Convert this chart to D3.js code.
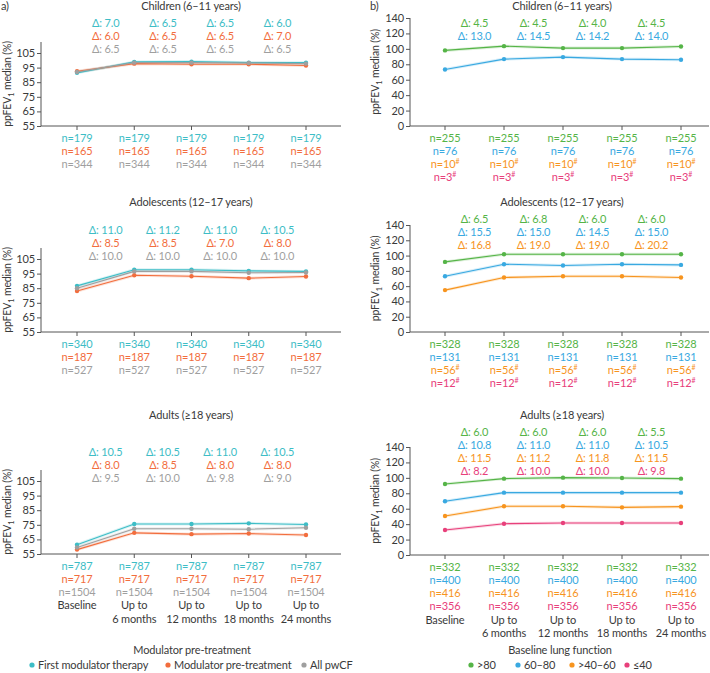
<!DOCTYPE html>
<html>
<head>
<meta charset="utf-8">
<script src="https://cdn.jsdelivr.net/npm/d3@7"></script>
<style>
  body { margin: 0; background: #fff; }
  svg { font-family: Lato, "Noto Sans", sans-serif; letter-spacing: -0.15px; }
</style>
</head>
<body>
<svg id="chart" width="710" height="673"></svg>
<script>
// time points shared by every panel
const timeLabels = [["Baseline"], ["Up to", "6 months"], ["Up to", "12 months"], ["Up to", "18 months"], ["Up to", "24 months"]];

// a) modulator pre-treatment groups
const groupsA = ["First modulator therapy", "Modulator pre-treatment", "All pwCF"];
const colorsA = ["#3dbdc6", "#f26d3d", "#9f9f9f"];

const aChildFirst = [91.4, 98.9, 99.1, 98.4, 98.4];
const aChildPre   = [92.5, 97.7, 97.3, 97.3, 96.4];
const aChildAll   = [92.0, 98.4, 98.4, 98.2, 97.7];
const aChildDelta = [[7.0, 6.5, 6.5, 6.0], [6.0, 6.5, 6.5, 7.0], [6.5, 6.5, 6.5, 6.5]];
const aChildN     = ["179", "165", "344"];

const aAdolFirst = [86.6, 97.6, 97.6, 96.9, 96.5];
const aAdolPre   = [83.1, 93.9, 93.2, 91.9, 93.0];
const aAdolAll   = [85.0, 96.5, 96.5, 95.6, 95.8];
const aAdolDelta = [[11.0, 11.2, 11.0, 10.5], [8.5, 8.5, 7.0, 8.0], [10.0, 10.0, 10.0, 10.0]];
const aAdolN     = ["340", "187", "527"];

const aAdultFirst = [61.4, 75.5, 75.5, 76.0, 75.2];
const aAdultPre   = [58.0, 69.5, 68.6, 69.0, 68.0];
const aAdultAll   = [59.5, 72.3, 72.3, 72.0, 73.0];
const aAdultDelta = [[10.5, 10.5, 11.0, 10.5], [8.0, 8.5, 8.0, 8.0], [9.5, 10.0, 9.8, 9.0]];
const aAdultN     = ["787", "717", "1504"];

// b) baseline lung function groups
const groupsB = [">80", "60\u201380", ">40\u201360", "\u226440"];
const colorsB = ["#55b447", "#39a9e1", "#f7941e", "#e8407b"];

const bChildHigh = [98.0, 103.5, 101.0, 101.0, 103.0];
const bChildMid  = [73.3, 86.7, 89.3, 86.7, 85.8];
const bChildDelta = [[4.5, 4.5, 4.0, 4.5], [13.0, 14.5, 14.2, 14.0]];
const bChildN     = ["255", "76", "10#", "3#"];

const bAdolHigh = [91.7, 101.7, 101.7, 101.7, 101.7];
const bAdolMid  = [73.0, 88.7, 87.0, 88.7, 87.8];
const bAdolLow  = [54.8, 71.3, 73.0, 73.0, 71.3];
const bAdolDelta = [[6.5, 6.8, 6.0, 6.0], [15.5, 15.0, 14.5, 15.0], [16.8, 19.0, 19.0, 20.2]];
const bAdolN     = ["328", "131", "56#", "12#"];

const bAdultHigh = [92.0, 99.0, 100.3, 99.9, 99.0];
const bAdultMid  = [69.6, 80.8, 80.8, 80.8, 80.8];
const bAdultLow  = [50.6, 63.1, 63.1, 61.8, 62.7];
const bAdultVLow = [32.4, 40.6, 41.5, 41.5, 41.5];
const bAdultDelta = [[6.0, 6.0, 6.0, 5.5], [10.8, 11.0, 11.0, 10.5], [11.5, 11.2, 11.8, 11.5], [8.2, 10.0, 10.0, 9.8]];
const bAdultN     = ["332", "400", "416", "356"];

const svg = d3.select("#chart");
const textCol = "#3a3a3a";
const fs = 11;

function drawPanel(p) {
  const g = svg.append("g");
  const x = d3.scalePoint().domain(d3.range(5)).range(p.xRange);
  const y = d3.scaleLinear().domain(p.domain).range(p.yRange);

  // title
  g.append("text").attr("x", p.titleX).attr("y", p.titleY)
    .attr("text-anchor", "middle").attr("font-size", fs).attr("fill", textCol)
    .text(p.title);

  // axes
  const yAxis = g.append("g").attr("transform", `translate(${p.axisX},0)`)
    .call(d3.axisLeft(y).tickValues(p.ticks).tickSize(4).tickPadding(2).tickSizeOuter(0));
  yAxis.select(".domain").remove();
  yAxis.append("line").attr("x1", 0).attr("x2", 0)
    .attr("y1", y(p.domain[0])).attr("y2", p.axisTop).attr("stroke", "#555");
  yAxis.selectAll("line").attr("stroke", "#555");
  yAxis.selectAll("text").attr("font-size", fs).attr("fill", textCol).attr("font-family", "Lato, sans-serif");

  const base = y(p.domain[0]);
  g.append("line").attr("x1", p.axisX).attr("x2", p.axisEnd)
    .attr("y1", base).attr("y2", base).attr("stroke", "#555");
  g.selectAll(".xt").data(d3.range(5)).join("line")
    .attr("x1", i => x(i)).attr("x2", i => x(i))
    .attr("y1", base).attr("y2", base + 4).attr("stroke", "#555");

  // y label
  const yl = g.append("text")
    .attr("transform", `translate(${p.labelX},${(base + p.axisTop) / 2}) rotate(-90)`)
    .attr("text-anchor", "middle").attr("font-size", 10.5).attr("fill", textCol);
  yl.append("tspan").text("ppFEV");
  yl.append("tspan").attr("font-size", 7.5).attr("dy", 3).text("1");
  yl.append("tspan").attr("dy", -3).text(" median (%)");

  // lines, drawn back to front
  const line = d3.line().x((d, i) => x(i)).y(d => y(d));
  p.series.forEach((s, k) => {
    g.append("path").datum(s).attr("d", line).attr("fill", "none")
      .attr("stroke", p.colors[k]).attr("stroke-opacity", 0.2).attr("stroke-width", 3);
  });
  p.series.forEach((s, k) => {
    g.append("path").datum(s).attr("d", line).attr("fill", "none")
      .attr("stroke", p.colors[k]).attr("stroke-width", 1.1);
    g.selectAll(null).data(s).join("circle")
      .attr("cx", (d, i) => x(i)).attr("cy", d => y(d)).attr("r", 2.2)
      .attr("fill", p.colors[k]);
  });

  // delta labels, between time points
  p.deltas.forEach((row, k) => {
    g.selectAll(null).data(row).join("text")
      .attr("x", (d, i) => (x(i) + x(i + 1)) / 2)
      .attr("y", p.deltaY + k * 13.2)
      .attr("dy", "0.35em").attr("text-anchor", "middle")
      .attr("font-size", fs).attr("fill", p.colors[k])
      .text(d => "\u0394: " + d.toFixed(1));
  });

  // n labels under each time point
  p.ns.forEach((n, k) => {
    const t = g.selectAll(null).data(d3.range(5)).join("text")
      .attr("x", i => x(i)).attr("y", base + 12 + k * 13.2)
      .attr("dy", "0.35em").attr("text-anchor", "middle")
      .attr("font-size", fs).attr("fill", p.colors[k]);
    const hash = n.endsWith("#");
    t.append("tspan").text("n=" + n.replace("#", ""));
    if (hash) t.append("tspan").attr("font-size", 7).attr("dy", -4).text("#");
  });

  // time labels
  if (p.showTime) {
    const ty = base + 12 + p.ns.length * 13.2;
    timeLabels.forEach((lines, i) => {
      lines.forEach((l, j) => {
        g.append("text").attr("x", x(i)).attr("y", ty + j * 13.2)
          .attr("dy", "0.35em").attr("text-anchor", "middle")
          .attr("font-size", fs).attr("fill", textCol).text(l);
      });
    });
  }
}

const panelA = { xRange: [77, 306], axisX: 41, axisEnd: 341, labelX: 11, domain: [55, 112], ticks: [55, 65, 75, 85, 95, 105], colors: colorsA, titleX: 191 };
const panelB = { xRange: [445, 681], axisX: 410, axisEnd: 709, labelX: 379, domain: [0, 140], ticks: [0, 20, 40, 60, 80, 100, 120, 140], colors: colorsB, titleX: 562 };

drawPanel({ ...panelA, title: "Children (6\u201311 years)", titleY: 10, yRange: [126, 126 - 57 * 1.46], axisTop: 42,
  series: [aChildFirst, aChildPre, aChildAll], deltas: aChildDelta, ns: aChildN, deltaY: 23, showTime: false });
drawPanel({ ...panelA, title: "Adolescents (12\u201317 years)", titleY: 206, yRange: [332, 332 - 57 * 1.46], axisTop: 248,
  series: [aAdolFirst, aAdolPre, aAdolAll], deltas: aAdolDelta, ns: aAdolN, deltaY: 230, showTime: false });
drawPanel({ ...panelA, title: "Adults (\u226518 years)", titleY: 419, yRange: [554, 554 - 57 * 1.46], axisTop: 470,
  series: [aAdultFirst, aAdultPre, aAdultAll], deltas: aAdultDelta, ns: aAdultN, deltaY: 452, showTime: true });

drawPanel({ ...panelB, title: "Children (6\u201311 years)", titleY: 10, yRange: [126, 18], axisTop: 18,
  series: [bChildHigh, bChildMid], deltas: bChildDelta, ns: bChildN, deltaY: 23, showTime: false });
drawPanel({ ...panelB, title: "Adolescents (12\u201317 years)", titleY: 206, yRange: [332, 225], axisTop: 225,
  series: [bAdolHigh, bAdolMid, bAdolLow], deltas: bAdolDelta, ns: bAdolN, deltaY: 219, showTime: false });
drawPanel({ ...panelB, title: "Adults (\u226518 years)", titleY: 419, yRange: [555, 447], axisTop: 447,
  series: [bAdultHigh, bAdultMid, bAdultLow, bAdultVLow], deltas: bAdultDelta, ns: bAdultN, deltaY: 432, showTime: true });

// panel letters
svg.append("text").attr("x", 1).attr("y", 10).attr("font-size", fs).attr("fill", textCol).text("a)");
svg.append("text").attr("x", 370).attr("y", 10).attr("font-size", fs).attr("fill", textCol).text("b)");

// legends
function legend(title, cx, groups, colors, xs) {
  svg.append("text").attr("x", cx).attr("y", 650).attr("dy", "0.35em")
    .attr("text-anchor", "middle").attr("font-size", fs).attr("fill", textCol).text(title);
  groups.forEach((gname, i) => {
    svg.append("circle").attr("cx", xs[i]).attr("cy", 665).attr("r", 2.6).attr("fill", colors[i]);
    svg.append("text").attr("x", xs[i] + 6).attr("y", 665).attr("dy", "0.35em")
      .attr("font-size", fs).attr("fill", textCol).text(gname);
  });
}
legend("Modulator pre-treatment", 192, groupsA, colorsA, [32, 168, 304]);
legend("Baseline lung function", 560, groupsB, colorsB, [471, 518, 572, 627]);
</script>
</body>
</html>
